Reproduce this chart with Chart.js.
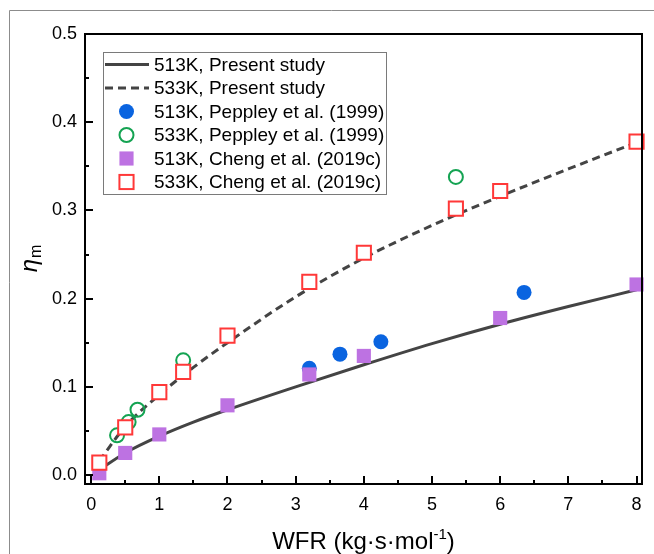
<!DOCTYPE html>
<html>
<head>
<meta charset="utf-8">
<script src="https://cdn.jsdelivr.net/npm/chart.js@4.4.0/dist/chart.umd.min.js"></script>
<style>
  body { margin: 0; background: #fff; }
  #wrap { width: 654px; height: 554px; }
</style>
</head>
<body>
<div id="wrap"><canvas id="chart" width="654" height="554"></canvas></div>
<script>
const FONT = "'Liberation Sans', Arial, sans-serif";

// axis ticks
const xTicks = [0, 1, 2, 3, 4, 5, 6, 7, 8];
const yTicks = [0, 0.1, 0.2, 0.3, 0.4, 0.5];

// model curves
const modelX = [0.12, 0.5, 1, 1.5, 2, 3, 4, 5, 6, 7, 8];
const model513 = [0.006, 0.025, 0.044, 0.060, 0.074, 0.100, 0.125, 0.149, 0.171, 0.191, 0.210];
const model533 = [0.016, 0.055, 0.091, 0.122, 0.150, 0.202, 0.246, 0.283, 0.316, 0.347, 0.377];

// Peppley et al. (1999)
const peppley513X = [3.2, 3.65, 4.25, 6.35];
const peppley513Y = [0.121, 0.137, 0.151, 0.207];
const peppley533X = [0.38, 0.55, 0.68, 1.35, 5.35];
const peppley533Y = [0.045, 0.060, 0.074, 0.130, 0.338];

// Cheng et al. (2019c)
const cheng513X = [0.12, 0.5, 1, 2, 3.2, 4, 6, 8];
const cheng513Y = [0.002, 0.025, 0.046, 0.079, 0.114, 0.135, 0.178, 0.216];
const cheng533X = [0.12, 0.5, 1, 1.35, 2, 3.2, 4, 5.35, 6, 8];
const cheng533Y = [0.014, 0.054, 0.094, 0.117, 0.158, 0.219, 0.252, 0.302, 0.322, 0.378];

function pts(xs, ys) {
  return xs.map((x, i) => ({ x: x, y: ys[i] }));
}

const LINE = '#444444';
const BLUE = '#0a64e0';
const GREEN = '#14a352';
const PURPLE = '#bd72e2';
const RED = '#ff3838';

// draws the outer frame, the axis box, inward ticks, axis titles and the legend
const decorations = {
  id: 'decorations',
  beforeDraw(chart) {
    const ctx = chart.ctx;
    ctx.save();
    ctx.strokeStyle = '#8c8c8c';
    ctx.lineWidth = 1;
    ctx.beginPath();
    ctx.moveTo(9.5, 554);
    ctx.lineTo(9.5, 10.5);
    ctx.lineTo(654, 10.5);
    ctx.stroke();
    ctx.restore();
  },
  afterDraw(chart) {
    const ctx = chart.ctx;
    const a = chart.chartArea;
    const xs = chart.scales.x;
    const ys = chart.scales.y;
    ctx.save();

    // ticks (inward)
    ctx.strokeStyle = '#000';
    ctx.lineWidth = 2;
    ctx.beginPath();
    xTicks.forEach((v, i) => {
      const px = Math.round(xs.getPixelForValue(v));
      ctx.moveTo(px, a.bottom);
      ctx.lineTo(px, a.bottom - 8);
      if (i < xTicks.length - 1) {
        const mx = Math.round(xs.getPixelForValue((v + xTicks[i + 1]) / 2));
        ctx.moveTo(mx, a.bottom);
        ctx.lineTo(mx, a.bottom - 4);
      }
    });
    yTicks.forEach((v, i) => {
      const py = Math.round(ys.getPixelForValue(v));
      ctx.moveTo(a.left, py);
      ctx.lineTo(a.left + 8, py);
      if (i < yTicks.length - 1) {
        const my = Math.round(ys.getPixelForValue((v + yTicks[i + 1]) / 2));
        ctx.moveTo(a.left, my);
        ctx.lineTo(a.left + 4, my);
      }
    });
    ctx.stroke();

    // axis box
    ctx.strokeRect(a.left, a.top, a.right - a.left, a.bottom - a.top);

    // x title with superscript
    ctx.fillStyle = '#000';
    ctx.textBaseline = 'alphabetic';
    ctx.textAlign = 'left';
    const big = '24px ' + FONT;
    const small = '15px ' + FONT;
    const t1 = 'WFR (kg·s·mol', t2 = '-1', t3 = ')';
    ctx.font = big; const w1 = ctx.measureText(t1).width; const w3 = ctx.measureText(t3).width;
    ctx.font = small; const w2 = ctx.measureText(t2).width;
    let tx = (a.left + a.right) / 2 - (w1 + w2 + w3) / 2;
    const ty = 549;
    ctx.font = big; ctx.fillText(t1, tx, ty); tx += w1;
    ctx.font = small; ctx.fillText(t2, tx, ty - 10); tx += w2;
    ctx.font = big; ctx.fillText(t3, tx, ty);

    // y title: eta with subscript m
    ctx.save();
    ctx.translate(37, (a.top + a.bottom) / 2);
    ctx.rotate(-Math.PI / 2);
    const etaFont = 'italic 24px ' + FONT;
    const subFont = '16px ' + FONT;
    ctx.font = etaFont; const we = ctx.measureText('η').width;
    ctx.font = subFont; const wm = ctx.measureText('m').width;
    let ex = -(we + wm) / 2;
    ctx.font = etaFont; ctx.fillText('η', ex, 0);
    ctx.font = subFont; ctx.fillText('m', ex + we + 1, 4);
    ctx.restore();

    // legend
    const lx = 103.5, ly = 52.5, lw = 283, lh = 142;
    ctx.fillStyle = '#fff';
    ctx.fillRect(lx, ly, lw, lh);
    ctx.strokeStyle = '#7a7a7a';
    ctx.lineWidth = 1;
    ctx.strokeRect(lx, ly, lw, lh);
    ctx.font = '19px ' + FONT;
    ctx.textBaseline = 'middle';
    chart.data.datasets.forEach((ds, i) => {
      const ry = 64.5 + i * 23.5;
      const cx = 126.5;
      if (ds.showLine) {
        ctx.strokeStyle = ds.borderColor;
        ctx.lineWidth = 3;
        ctx.setLineDash(ds.borderDash || []);
        ctx.beginPath();
        ctx.moveTo(105, ry);
        ctx.lineTo(149, ry);
        ctx.stroke();
        ctx.setLineDash([]);
      } else {
        ctx.fillStyle = ds.backgroundColor;
        ctx.strokeStyle = ds.borderColor;
        ctx.lineWidth = ds.borderWidth;
        if (ds.pointStyle === 'circle') {
          ctx.beginPath();
          ctx.arc(cx, ry, ds.pointRadius, 0, Math.PI * 2);
          ctx.fill();
          if (ds.borderWidth) ctx.stroke();
        } else {
          const s = ds.pointRadius * Math.SQRT1_2;
          ctx.fillRect(cx - s, ry - s, 2 * s, 2 * s);
          if (ds.borderWidth) ctx.strokeRect(cx - s, ry - s, 2 * s, 2 * s);
        }
      }
      ctx.fillStyle = '#000';
      ctx.fillText(ds.label, 154, ry + 1);
    });

    ctx.restore();
  }
};

const tickFont = { family: FONT, size: 18 };

new Chart(document.getElementById('chart'), {
  type: 'scatter',
  data: {
    datasets: [
      {
        label: '513K, Present study', data: pts(modelX, model513), showLine: true,
        borderColor: LINE, borderWidth: 3, pointRadius: 0, cubicInterpolationMode: 'monotone', order: 6
      },
      {
        label: '533K, Present study', data: pts(modelX, model533), showLine: true,
        borderColor: LINE, borderWidth: 3, borderDash: [8, 5], pointRadius: 0, cubicInterpolationMode: 'monotone', order: 5
      },
      {
        label: '513K, Peppley et al. (1999)', data: pts(peppley513X, peppley513Y),
        pointStyle: 'circle', pointRadius: 7.5, backgroundColor: BLUE, borderColor: BLUE, borderWidth: 0, order: 4, clip: false
      },
      {
        label: '533K, Peppley et al. (1999)', data: pts(peppley533X, peppley533Y),
        pointStyle: 'circle', pointRadius: 7, backgroundColor: 'rgba(255,255,255,0)', borderColor: GREEN, borderWidth: 2, order: 3, clip: false
      },
      {
        label: '513K, Cheng et al. (2019c)', data: pts(cheng513X, cheng513Y),
        pointStyle: 'rect', pointRadius: 10, backgroundColor: PURPLE, borderColor: PURPLE, borderWidth: 0, order: 2, clip: false
      },
      {
        label: '533K, Cheng et al. (2019c)', data: pts(cheng533X, cheng533Y),
        pointStyle: 'rect', pointRadius: 10, backgroundColor: '#ffffff', borderColor: RED, borderWidth: 2, order: 1, clip: false
      }
    ]
  },
  options: {
    responsive: false,
    animation: false,
    events: [],
    layout: { padding: { top: 34, right: 10, left: 0, bottom: 0 } },
    plugins: { legend: { display: false }, tooltip: { enabled: false } },
    scales: {
      x: {
        type: 'linear', min: -0.09, max: 8.08,
        grid: { display: false, drawTicks: false },
        border: { display: false },
        afterBuildTicks: s => { s.ticks = xTicks.map(v => ({ value: v })); },
        afterFit: s => { s.height = 70; },
        ticks: { font: tickFont, color: '#000', padding: 10, maxRotation: 0, autoSkip: false }
      },
      y: {
        type: 'linear', min: -0.0102, max: 0.5,
        grid: { display: false, drawTicks: false },
        border: { display: false },
        afterBuildTicks: s => { s.ticks = yTicks.map(v => ({ value: v })); },
        afterFit: s => { s.width = 85; },
        ticks: { font: tickFont, color: '#000', padding: 8, autoSkip: false, callback: v => v.toFixed(1) }
      }
    }
  },
  plugins: [decorations]
});
</script>
</body>
</html>
